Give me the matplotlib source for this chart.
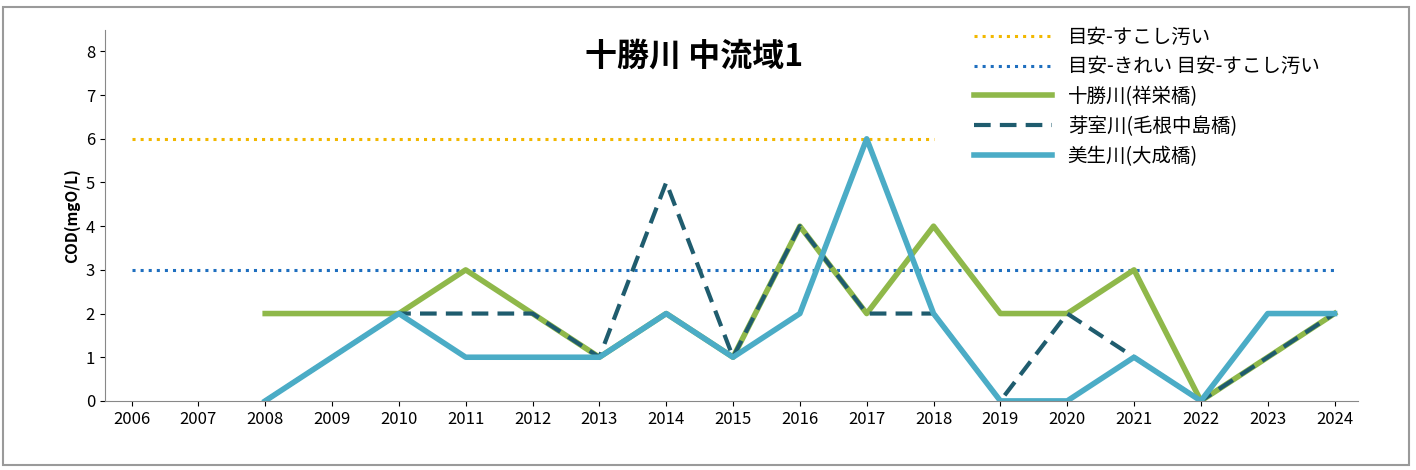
import matplotlib
matplotlib.use("Agg")
import matplotlib.pyplot as plt
from matplotlib.patches import Rectangle

plt.rcParams['font.family'] = ['Noto Sans CJK JP', 'DejaVu Sans']

years = list(range(2006, 2025))
yrs_data = list(range(2008, 2025))
tokachi = [2, 2, 2, 3, 2, 1, 2, 1, 4, 2, 4, 2, 2, 3, 0, 1, 2]
memuro = [0, 1, 2, 2, 2, 1, 5, 1, 4, 2, 2, 0, 2, 1, 0, 1, 2]
biseigawa = [0, 1, 2, 1, 1, 1, 2, 1, 2, 6, 2, 0, 0, 1, 0, 2, 2]
dirty_x = list(range(2006, 2019)); dirty_v = 6
clean_x = list(range(2006, 2025)); clean_v = 3

fig = plt.figure(figsize=(14.16, 4.70), dpi=100)
ax = fig.add_axes([0.074, 0.147, 0.885, 0.79])
fig.patches.append(Rectangle((0.002, 0.01), 0.993, 0.975, transform=fig.transFigure,
                             fill=False, edgecolor='#9a9a9a', lw=1.5))

ax.plot(dirty_x, [dirty_v]*len(dirty_x), ls=':', color='#f2b800', lw=2.2, label='目安-すこし汚い')
ax.plot(clean_x, [clean_v]*len(clean_x), ls=':', color='#1f6fbf', lw=2.2, label='目安-きれい 目安-すこし汚い')
ax.plot(yrs_data, tokachi, color='#8fb84a', lw=4, label='十勝川(祥栄橋)')
ax.plot(yrs_data, memuro, color='#1f5c6e', lw=3, ls=(0, (4, 2.2)), label='芽室川(毛根中島橋)')
ax.plot(yrs_data, biseigawa, color='#4bacc6', lw=4, label='美生川(大成橋)')

ax.set_xlim(2005.6, 2024.35)
ax.set_ylim(0, 8.5)
ax.set_yticks(range(0, 9))
ax.set_xticks(years)
ax.tick_params(labelsize=12)
for s in ['top', 'right']:
    ax.spines[s].set_visible(False)
for s in ['left', 'bottom']:
    ax.spines[s].set_color('#888888')
ax.set_ylabel('COD(mgO/L)', fontsize=11, fontweight='bold')
ax.text(0.47, 0.97, '十勝川 中流域1', transform=ax.transAxes, ha='center', va='top',
        fontsize=23, fontweight='bold')
ax.legend(loc='upper left', bbox_to_anchor=(0.68, 1.055), frameon=False, fontsize=14,
          handlelength=4, labelspacing=0.45)
fig.savefig('out.png', dpi=100)
